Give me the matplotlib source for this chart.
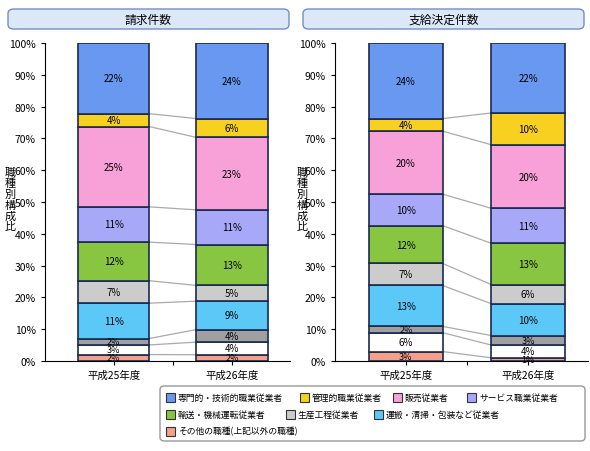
import matplotlib
matplotlib.use("Agg")
import matplotlib.pyplot as plt
from matplotlib.patches import FancyBboxPatch
import numpy as np

plt.rcParams['font.family'] = ['Noto Sans CJK JP', 'DejaVu Sans']

years = ["平成25年度", "平成26年度"]
# bottom to top
segments = ["その他の職種(上記以外の職種)", "_w", "_d", "運搬・清掃・包装など従業者", "生産工程従業者",
            "輸送・機械運転従業者", "サービス職業従業者", "販売従業者", "管理的職業従業者", "専門的・技術的職業従業者"]
colors = ["#f4a08a", "#ffffff", "#a0a0a0", "#5cc8f8", "#cccccc", "#88c540", "#a8a8f8", "#f8a0d8", "#f8d020", "#6898f0"]
claims = {"平成25年度": [2, 3, 2, 11, 7, 12, 11, 25, 4, 22],
          "平成26年度": [2, 4, 4, 9, 5, 13, 11, 23, 6, 24]}
decisions = {"平成25年度": [3, 6, 2, 13, 7, 12, 10, 20, 4, 24],
             "平成26年度": [1, 4, 3, 10, 6, 13, 11, 20, 10, 22]}
titles = ["請求件数", "支給決定件数"]

fig = plt.figure(figsize=(5.9, 4.52), dpi=100)
W, H = 590, 452
axes_px = [(45, 290), (335, 588)]
bw_ = 0.6
for k, (data, title) in enumerate([(claims, titles[0]), (decisions, titles[1])]):
    x0, x1 = axes_px[k]
    ax = fig.add_axes([x0 / W, 1 - 362 / H, (x1 - x0) / W, (362 - 44) / H])
    tops = []
    for i, y in enumerate(years):
        v = np.array(data[y], float)
        h = v / v.sum() * 100
        bottoms = np.concatenate([[0], np.cumsum(h)[:-1]])
        ax.bar(i, h, bottom=bottoms, width=bw_, color=colors, edgecolor="#1a2a50", linewidth=1.2, zorder=3)
        for b, hh, lab in zip(bottoms, h, v):
            ax.text(i, b + hh / 2, f"{int(lab)}%", ha="center", va="center",
                    fontsize=6.5 if hh < 3.5 else 7, zorder=4)
        tops.append(np.cumsum(h))
    for t0, t1 in zip(tops[0][:-1], tops[1][:-1]):
        ax.plot([bw_ / 2, 1 - bw_ / 2], [t0, t1], color="#aaaaaa", lw=0.9, zorder=2)
    ax.set_xlim(-0.58, 1.49)
    ax.set_ylim(0, 100)
    ax.set_yticks(range(0, 101, 10))
    ax.set_yticklabels([f"{t}%" for t in range(0, 101, 10)], fontsize=7.5)
    ax.set_xticks([0, 0.5, 1])
    ax.set_xticklabels([years[0], "", years[1]], fontsize=7.5)
    for s in ["top", "right"]:
        ax.spines[s].set_visible(False)
    ax.tick_params(length=3)
    fig.text((10 if k == 0 else 302) / W, 1 - 200 / H, "\n".join("職種別構成比"),
             ha="center", va="center", fontsize=8, linespacing=1.1)
    # title box
    bx0 = (8 if k == 0 else 303) / W
    bw = 281 / W
    fig.patches.append(FancyBboxPatch((bx0, 1 - 30 / H), bw, 20 / H, boxstyle="round,pad=0,rounding_size=0.01",
                                      transform=fig.transFigure, facecolor="#dce8f8", edgecolor="#7090c0", lw=1))
    fig.text(bx0 + bw / 2, 1 - 20 / H, title, ha="center", va="center", fontsize=8.5)

# legend
fig.patches.append(FancyBboxPatch((160 / W, 1 - 442 / H), 425 / W, 55 / H, boxstyle="round,pad=0,rounding_size=0.008",
                                  transform=fig.transFigure, facecolor="white", edgecolor="#999999", lw=1))
rows = [[9, 8, 7, 6], [5, 4, 3], [0]]
xs_rows = [[166, 300, 393, 467], [166, 286, 374], [166]]
for r, (row, xs) in enumerate(zip(rows, xs_rows)):
    y = 1 - (398 + r * 17) / H
    for idx, xp in zip(row, xs):
        fig.patches.append(plt.Rectangle((xp / W, y - 4.5 / H), 9 / W, 9 / H, transform=fig.transFigure,
                                         facecolor=colors[idx], edgecolor="#333333", lw=0.8))
        fig.text((xp + 12) / W, y, segments[idx], ha="left", va="center", fontsize=6.3)

fig.savefig("out.png", dpi=100)
